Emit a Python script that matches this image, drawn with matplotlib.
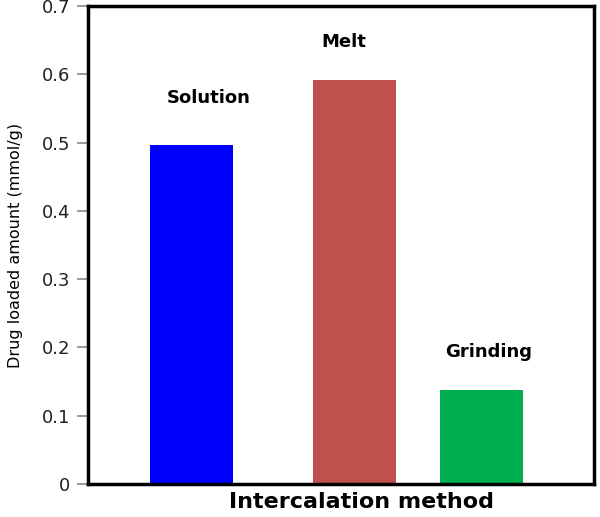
import matplotlib
matplotlib.use("Agg")
import matplotlib.pyplot as plt

methods = ["Solution", "Melt", "Grinding"]
loaded = [0.497, 0.592, 0.138]
colors = ["#0000ff", "#c0504d", "#00b050"]
# bar centres (unequal spacing as in the original)
xpos = [1.035, 2.665, 3.935]
label_x = [1.21, 2.56, 4.01]
label_y = [0.565, 0.647, 0.193]

fig = plt.figure(figsize=(6, 5.17), dpi=100)
ax = fig.add_axes([0.1467, 0.0638, 0.8433, 0.9246])

ax.bar(xpos, loaded, width=0.83, color=colors)
for m, lx, ly in zip(methods, label_x, label_y):
    ax.text(lx, ly, m, ha="center", va="center", fontsize=13, fontweight="bold")

ax.set_xlim(0, 5.06)
ax.set_ylim(0, 0.7)
ax.set_yticks([0, 0.1, 0.2, 0.3, 0.4, 0.5, 0.6, 0.7])
ax.set_yticklabels(["0", "0.1", "0.2", "0.3", "0.4", "0.5", "0.6", "0.7"])
ax.set_xticks([])
ax.tick_params(axis="y", direction="out", length=8, width=1.2, color="#888888",
               labelsize=13, labelcolor="#222222", pad=5)
for s in ax.spines.values():
    s.set_linewidth(2.5)
    s.set_color("black")

ax.set_ylabel("Drug loaded amount (mmol/g)", fontsize=11.5)
ax.yaxis.set_label_coords(-0.128, 0.5)
ax.set_xlabel("Intercalation method", fontsize=16, fontweight="bold")
ax.xaxis.set_label_coords(0.541, -0.017)

fig.savefig("out.png", dpi=100)
